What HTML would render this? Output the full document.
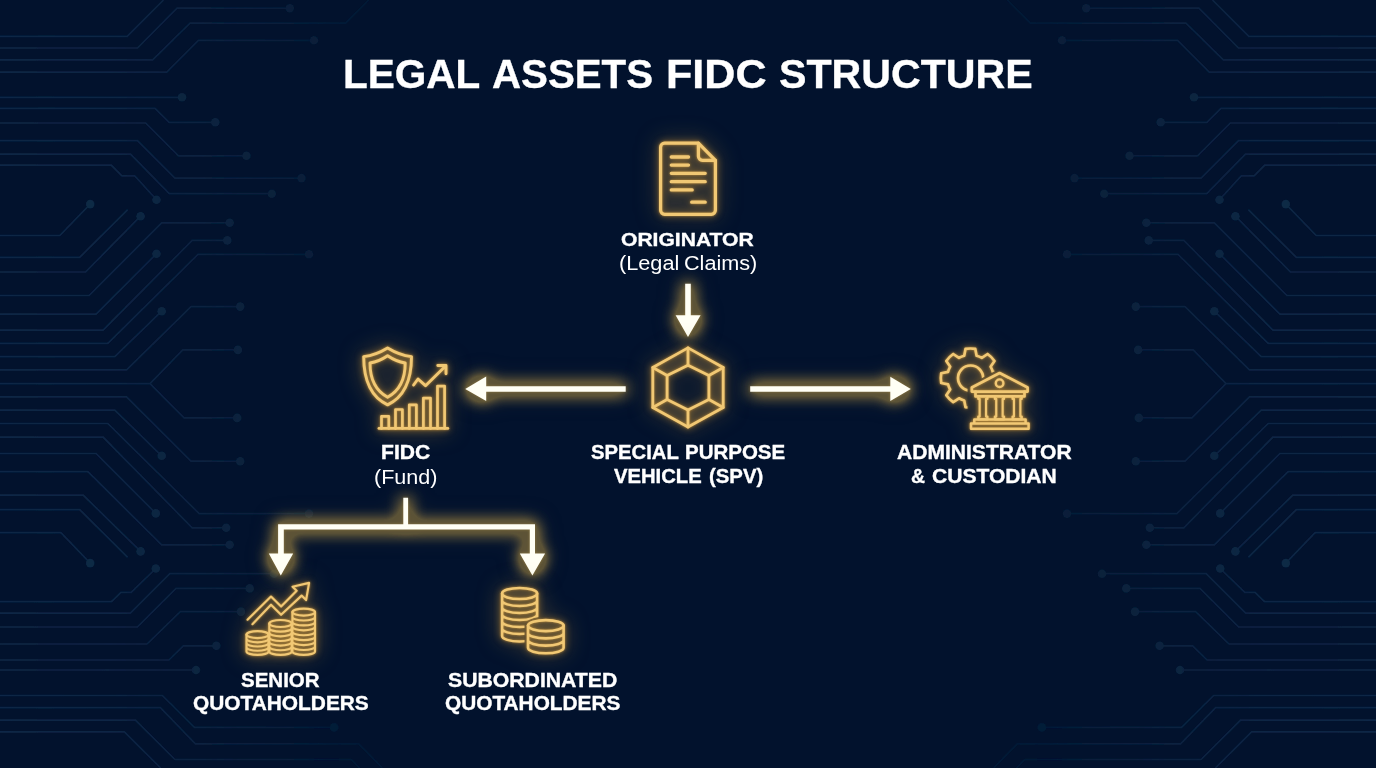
<!DOCTYPE html>
<html><head><meta charset="utf-8"><title>Legal Assets FIDC Structure</title>
<style>
html,body{margin:0;padding:0}
body{width:1376px;height:768px;overflow:hidden;background:#02122d;position:relative;font-family:"Liberation Sans",sans-serif;color:#fff}
svg{position:absolute;left:0;top:0}
.l{position:absolute;white-space:nowrap;font-weight:bold;line-height:1;transform-origin:0 50%;-webkit-text-stroke:0.35px #fff;color:#fff}
.l.r{font-weight:normal;-webkit-text-stroke:0}
.r{font-weight:normal}
</style></head><body>
<svg id="bg" width="1376" height="768" viewBox="0 0 1376 768">
<defs>
<linearGradient id="fadeG" gradientUnits="userSpaceOnUse" x1="0" y1="0" x2="360" y2="0"><stop offset="0" stop-color="#fff"/><stop offset="0.3" stop-color="#fff" stop-opacity="0.95"/><stop offset="1" stop-color="#fff" stop-opacity="0.4"/></linearGradient>
<mask id="fadeM" maskUnits="userSpaceOnUse" x="0" y="0" width="400" height="768"><rect x="0" y="0" width="400" height="768" fill="url(#fadeG)"/></mask>
<g id="circ" fill="none" stroke="#0c2646" stroke-width="1.7" mask="url(#fadeM)">
<path d="M0,36.3H127.2L163.5,0"/>
<path d="M0,48H137.5L177,8.2H289.8"/>
<path d="M0,59.8H152.7L190,23.1H345.6L368.7,0"/>
<path d="M0,72.2H166.8L198.5,40.3H314"/>
<path d="M0,97.3H182"/>
<path d="M0,108.3H155.1L169.1,122.3H215.3"/>
<path d="M0,123H145.7L178.5,155.8H246.5"/>
<path d="M0,140.6H137.5L175,178.1H301.5"/>
<path d="M0,154.2H130.5L169.3,193.6H271.8"/>
<path d="M0,165.2H111.3L121.9,175.9H134.8L156.5,199.8"/>
<path d="M0,235.5H59.8L90.2,204.1"/>
<path d="M0,257.3H79.7L127.7,209.7"/>
<path d="M0,272H85.5L140.6,216.2"/>
<path d="M0,295.5H89.1L161.7,222.8H229.7"/>
<path d="M0,314.2H96.1L156.5,253.7"/>
<path d="M0,330.2H103.1L192.2,240.4H227.3"/>
<path d="M0,343.4H107.8L198,254.4H309"/>
<path d="M0,356.7H114.8L161.7,311.2"/>
<path d="M0,369.8H126.6L191,306.6H240.2"/>
<path d="M0,383.7H150L182.8,349.9H237.9M150,383.7L184,417.9H237.2"/>
<path d="M0,396.8H126.6L191,461.2H240.2"/>
<path d="M0,410.1H114.8L161.7,455.8"/>
<path d="M0,423.5H107.8L199.2,513.6H309"/>
<path d="M0,437.1H103.1L192.2,527.8H226.2"/>
<path d="M0,453.5H96.1L155.8,513.4"/>
<path d="M0,471.7H87.9L161.7,544.8H229.7"/>
<path d="M0,495.2H83.2L140.6,551.4"/>
<path d="M0,509.7H79.7L127.7,557.3"/>
<path d="M0,532.7H60.9L90.2,563.1"/>
<path d="M0,601.7H111.5L121,592.3H131.2L155.8,568.5"/>
<path d="M0,613.2H130.3L169.8,573.7H274"/>
<path d="M0,627H137.3L176,588.4H249.7"/>
<path d="M0,644H147L180.4,611.6H241"/>
<path d="M0,660H169L183.3,645.8H216.4"/>
<path d="M0,670H196"/>
<path d="M0,695.5H162.4L194.4,727.4H334.2"/>
<path d="M0,707.7H160.4L195.4,743.8H358.8L382.4,768"/>
<path d="M0,720.1H135.4L175,759.5H351.2L359.7,768"/>
<path d="M0,731.9H124.4L160.7,768"/>
<g fill="#0e2a46" stroke="none">
<circle cx="289.8" cy="8.2" r="4.3"/><circle cx="314" cy="40.3" r="4.3"/><circle cx="182" cy="97.3" r="4.3"/>
<circle cx="215.3" cy="122.3" r="4.3"/><circle cx="246.5" cy="155.8" r="4.3"/><circle cx="301.5" cy="178.1" r="4.3"/>
<circle cx="271.8" cy="193.8" r="4.3"/><circle cx="156.5" cy="199.8" r="4.3"/><circle cx="90.2" cy="204.1" r="4.3"/>
<circle cx="140.6" cy="216.2" r="4.3"/><circle cx="229.7" cy="222.8" r="4.3"/><circle cx="156.5" cy="253.7" r="4.3"/>
<circle cx="227.3" cy="240.4" r="4.3"/><circle cx="309" cy="254.2" r="4.3"/><circle cx="161.7" cy="311.2" r="4.3"/>
<circle cx="240.2" cy="306.6" r="4.3"/><circle cx="237.9" cy="349.9" r="4.3"/><circle cx="237.2" cy="417.9" r="4.3"/>
<circle cx="240.2" cy="461.2" r="4.3"/><circle cx="161.7" cy="455.8" r="4.3"/><circle cx="309" cy="513.6" r="4.3"/>
<circle cx="226.2" cy="527.8" r="4.3"/><circle cx="155.8" cy="513.4" r="4.3"/><circle cx="229.7" cy="544.8" r="4.3"/>
<circle cx="140.6" cy="551.4" r="4.3"/><circle cx="90.2" cy="563.1" r="4.3"/><circle cx="155.8" cy="568.5" r="4.3"/>
<circle cx="274" cy="573.7" r="4.3"/><circle cx="249.7" cy="588.4" r="4.3"/><circle cx="241" cy="611.6" r="4.3"/>
<circle cx="216.4" cy="645.8" r="4.3"/><circle cx="196" cy="670" r="4.3"/><circle cx="334.2" cy="727.4" r="4.3"/>
</g>
</g>
</defs>
<filter id="soft" x="-5%" y="-5%" width="110%" height="110%"><feGaussianBlur stdDeviation="0.55"/></filter>
<g filter="url(#soft)"><use href="#circ"/>
<use href="#circ" transform="matrix(-1,0,0,1,1376,0)"/></g>
</svg>

<svg id="fg" width="1376" height="768" viewBox="0 0 1376 768">
<defs>
<filter id="gA" x="-50%" y="-50%" width="200%" height="200%" color-interpolation-filters="sRGB">
<feGaussianBlur in="SourceAlpha" stdDeviation="12" result="b0"/>
<feComponentTransfer in="b0" result="b0s"><feFuncA type="linear" slope="2"/></feComponentTransfer>
<feFlood flood-color="#8a7038" flood-opacity="0.28"/><feComposite in2="b0s" operator="in" result="g0"/>
<feGaussianBlur in="SourceAlpha" stdDeviation="8" result="b1"/>
<feComponentTransfer in="b1" result="b1s"><feFuncA type="linear" slope="5"/></feComponentTransfer>
<feFlood flood-color="#a88a40" flood-opacity="0.5"/><feComposite in2="b1s" operator="in" result="g1"/>
<feGaussianBlur in="SourceAlpha" stdDeviation="1.5" result="b2"/>
<feFlood flood-color="#e8bc58" flood-opacity="0.35"/><feComposite in2="b2" operator="in" result="g2"/>
<feMerge><feMergeNode in="g0"/><feMergeNode in="g1"/><feMergeNode in="g2"/><feMergeNode in="SourceGraphic"/></feMerge>
</filter>
<filter id="gI" x="-50%" y="-50%" width="200%" height="200%" color-interpolation-filters="sRGB">
<feGaussianBlur in="SourceAlpha" stdDeviation="11" result="b0"/>
<feComponentTransfer in="b0" result="b0s"><feFuncA type="linear" slope="2"/></feComponentTransfer>
<feFlood flood-color="#8a6c34" flood-opacity="0.5"/><feComposite in2="b0s" operator="in" result="g0"/>
<feGaussianBlur in="SourceAlpha" stdDeviation="3.5" result="b1"/>
<feComponentTransfer in="b1" result="b1s"><feFuncA type="linear" slope="1.8"/></feComponentTransfer>
<feFlood flood-color="#9a7430" flood-opacity="0.55"/><feComposite in2="b1s" operator="in" result="g1"/>
<feGaussianBlur in="SourceAlpha" stdDeviation="1.3" result="b2"/>
<feFlood flood-color="#e0a440" flood-opacity="0.7"/><feComposite in2="b2" operator="in" result="g2"/>
<feMerge><feMergeNode in="g0"/><feMergeNode in="g1"/><feMergeNode in="g2"/><feMergeNode in="SourceGraphic"/></feMerge>
</filter>
<mask id="mGear" maskUnits="userSpaceOnUse" x="900" y="330" width="160" height="120">
<rect x="900" y="330" width="160" height="120" fill="#fff"/>
<path d="M967.5,395 V386 L999.6,368.5 L1032,386 V433 H967.5 Z" fill="#000"/>
</mask>
<mask id="mBig" maskUnits="userSpaceOnUse" x="480" y="570" width="110" height="100">
<rect x="480" y="570" width="110" height="100" fill="#fff"/>
<path d="M524.5,625.6 A21.3,9 0 0 1 567.1,625.6 V649 A21.3,9 0 0 1 524.5,649 Z" fill="#000"/>
</mask>
</defs>

<!-- arrows -->
<g fill="#fffff5" filter="url(#gA)">
<path d="M685.2,283.7 H690.8 V315.2 H700.6 L688,337 L675.6,315.2 H685.2 Z"/>
<path d="M625.7,386.2 V391.8 H486.2 V401 L465.2,389 L486.2,376.6 V386.2 Z"/>
<path d="M750.2,386.2 V391.8 H890.3 V401 L910.8,389 L890.3,376.8 V386.2 Z"/>
<path d="M403.3,497.8 H408.1 V524.3 H535 V553.4 H545.1 L532.4,575.6 L519.8,553.4 H529.8 V529.5 H283.8 V553.6 H293.2 L280.8,575.4 L268.8,553.6 H278.1 V524.3 H403.3 Z"/>
</g>

<!-- icon interior tints -->
<g fill="#b48a44" stroke="none">
<path fill-opacity="0.13" d="M664.6,143.2 H698.4 L715.4,160.3 V210.3 A4,4 0 0 1 711.4,214.3 H664.6 A4,4 0 0 1 660.6,210.3 V147.2 A4,4 0 0 1 664.6,143.2 Z"/>
<path fill-opacity="0.2" fill-rule="evenodd" d="M688,347.9 L723.2,367.5 V407.5 L688,427 L652.8,407.5 V367.5 Z M688,365.2 L708.9,375.5 V399.5 L688,410 L667.1,399.5 V375.5 Z"/>
<path fill-opacity="0.2" fill-rule="evenodd" d="M387.6,347.9 Q376,355 363.7,356.6 C363.7,385 375,399 387.6,404.9 C400.2,399 411.5,385 411.5,356.6 Q399.2,355 387.6,347.9 Z M387.6,355.7 Q379,361.5 370,363 C370,381 377,391.5 387.6,397.2 C398.2,391.5 405.2,381 405.2,363 Q396.2,361.5 387.6,355.7 Z"/>
<path fill-opacity="0.14" d="M381.5,428.4 V416.3 H388.8 V428.4 Z M395.5,428.4 V409.5 H402.4 V428.4 Z M409.3,428.4 V404.8 H416.4 V428.4 Z M423.4,428.4 V398.1 H430.5 V428.4 Z M437.5,428.4 V386.1 H444.6 V428.4 Z"/>
<path fill-opacity="0.2" d="M246.50,634.6 A11,3.5 0 0 1 268.50,634.6 V651.4 A11,3.5 0 0 1 246.50,651.4 Z M269.30,623.5 A11.2,3.5 0 0 1 291.70,623.5 V651.4 A11.2,3.5 0 0 1 269.30,651.4 Z M292.40,612.1 A11.3,3.5 0 0 1 315.00,612.1 V651.4 A11.3,3.5 0 0 1 292.40,651.4 Z "/>
<path fill-opacity="0.2" d="M528.00,625.6 A17.8,5.5 0 0 1 563.60,625.6 V647.8 A17.8,5.5 0 0 1 528.00,647.8 Z "/>
<path fill-opacity="0.2" d="M502.10,593.5 A17.5,5.5 0 0 1 537.10,593.5 V636 A17.5,5.5 0 0 1 502.10,636 Z " mask="url(#mBig)"/>
<path fill-opacity="0.16" d="M971.8,391.6 V387.5 L999.6,373 L1027.6,387.5 V391.6 Z M975.5,391.6 H1024.5 V419.4 H975.5 Z M971,419.4 H1028.6 V428.8 H971 Z"/>
<path fill-opacity="0.13" d="M964.20,355.74L965.51,348.91A29.6,29.6 0 0 1 975.29,348.91L976.60,355.74A23.2,23.2 0 0 1 981.82,357.91L987.59,354.00A29.6,29.6 0 0 1 994.50,360.91L990.59,366.68A23.2,23.2 0 0 1 992.76,371.90L999.59,373.21A29.6,29.6 0 0 1 999.59,382.99L992.76,384.30A23.2,23.2 0 0 1 990.59,389.52L994.50,395.29A29.6,29.6 0 0 1 987.59,402.20L981.82,398.29A23.2,23.2 0 0 1 976.60,400.46L975.29,407.29A29.6,29.6 0 0 1 965.51,407.29L964.20,400.46A23.2,23.2 0 0 1 958.98,398.29L953.21,402.20A29.6,29.6 0 0 1 946.30,395.29L950.21,389.52A23.2,23.2 0 0 1 948.04,384.30L941.21,382.99A29.6,29.6 0 0 1 941.21,373.21L948.04,371.90A23.2,23.2 0 0 1 950.21,366.68L946.30,360.91A29.6,29.6 0 0 1 953.21,354.00L958.98,357.91A23.2,23.2 0 0 1 964.20,355.74Z" mask="url(#mGear)"/>
</g>
<!-- icons -->
<g fill="none" stroke="#f1c874" stroke-width="3" stroke-linecap="round" stroke-linejoin="round" filter="url(#gI)">
<!-- document -->
<g>
<path d="M664.6,143.2 H698.4 L715.4,160.3 V210.3 A4,4 0 0 1 711.4,214.3 H664.6 A4,4 0 0 1 660.6,210.3 V147.2 A4,4 0 0 1 664.6,143.2 Z" stroke-width="3.2"/>
<path d="M698.4,143.2 V156.3 A4,4 0 0 0 702.4,160.3 H715.4" stroke-width="3.2"/>
<path d="M671.3,157 H688.5 M671.3,165.1 H688.5 M671.3,173.3 H705.2 M671.3,181.7 H705.2 M671.3,189.9 H692.2 M691.7,202.2 H705.2" stroke-width="3.3"/>
</g>
<!-- hexagon -->
<g stroke-width="2.8">
<path d="M688,347.9 L723.2,367.5 V407.5 L688,427 L652.8,407.5 V367.5 Z"/>
<path d="M688,365.2 L708.9,375.5 V399.5 L688,410 L667.1,399.5 V375.5 Z"/>
<path d="M688,347.9 V365.2 M723.2,367.5 L708.9,375.5 M723.2,407.5 L708.9,399.5 M688,427 V410 M652.8,407.5 L667.1,399.5 M652.8,367.5 L667.1,375.5"/>
</g>
<!-- shield + chart -->
<g stroke-width="2.9">
<path d="M387.6,347.9 Q376,355 363.7,356.6 C363.7,385 375,399 387.6,404.9 C400.2,399 411.5,385 411.5,356.6 Q399.2,355 387.6,347.9 Z"/>
<path d="M387.6,355.7 Q379,361.5 370,363 C370,381 377,391.5 387.6,397.2 C398.2,391.5 405.2,381 405.2,363 Q396.2,361.5 387.6,355.7 Z"/>
<path d="M379,428.4 H447.8"/>
<path d="M381.5,428.4 V416.3 H388.8 V428.4 M395.5,428.4 V409.5 H402.4 V428.4 M409.3,428.4 V404.8 H416.4 V428.4 M423.4,428.4 V398.1 H430.5 V428.4 M437.5,428.4 V386.1 H444.6 V428.4" stroke-width="2.7"/>
<path d="M413.6,385 L418,379 L425.5,385.7 L445.6,366 M437.8,365.5 H446 V373.8"/>
</g>
<!-- gear + bank -->
<g stroke-width="2.7">
<g mask="url(#mGear)">
<path d="M964.20,355.74L965.51,348.91A29.6,29.6 0 0 1 975.29,348.91L976.60,355.74A23.2,23.2 0 0 1 981.82,357.91L987.59,354.00A29.6,29.6 0 0 1 994.50,360.91L990.59,366.68A23.2,23.2 0 0 1 992.76,371.90L999.59,373.21A29.6,29.6 0 0 1 999.59,382.99L992.76,384.30A23.2,23.2 0 0 1 990.59,389.52L994.50,395.29A29.6,29.6 0 0 1 987.59,402.20L981.82,398.29A23.2,23.2 0 0 1 976.60,400.46L975.29,407.29A29.6,29.6 0 0 1 965.51,407.29L964.20,400.46A23.2,23.2 0 0 1 958.98,398.29L953.21,402.20A29.6,29.6 0 0 1 946.30,395.29L950.21,389.52A23.2,23.2 0 0 1 948.04,384.30L941.21,382.99A29.6,29.6 0 0 1 941.21,373.21L948.04,371.90A23.2,23.2 0 0 1 950.21,366.68L946.30,360.91A29.6,29.6 0 0 1 953.21,354.00L958.98,357.91A23.2,23.2 0 0 1 964.20,355.74Z"/>
<circle cx="970.6" cy="378.1" r="12.6"/>
</g>
<path d="M971.8,391.6 V387.5 L999.6,373 L1027.6,387.5 V391.6 Z"/>
<circle cx="999.6" cy="383.2" r="3.8" stroke-width="2.4"/>
<path d="M975.5,391.6 V396.4 H1024.5 V391.6"/>
<path d="M978.25,396.4 V398.9 H979.65 V416.6 H978.25 V419.4 H987.45 V416.6 H986.05 V398.9 H987.45 V396.4 M994.85,396.4 V398.9 H996.25 V416.6 H994.85 V419.4 H1004.05 V416.6 H1002.65 V398.9 H1004.05 V396.4 M1012.55,396.4 V398.9 H1013.95 V416.6 H1012.55 V419.4 H1021.75 V416.6 H1020.35 V398.9 H1021.75 V396.4" stroke-width="2.2"/>
<path d="M974.3,419.4 H1025.6 V423.6 H974.3 Z M971,423.6 H1028.6 V428.8 H971 Z" stroke-width="2.5"/>
</g>
<!-- senior coins -->
<g stroke-width="2.15" id="senior"><ellipse cx="257.5" cy="634.6" rx="11" ry="3.5"/><path d="M246.50,634.6V651.4M268.50,634.6V651.4M246.50,638.80A11,3.5 0 0 0 268.50,638.80M246.50,643.00A11,3.5 0 0 0 268.50,643.00M246.50,647.20A11,3.5 0 0 0 268.50,647.20M246.50,651.40A11,3.5 0 0 0 268.50,651.40"/><ellipse cx="280.5" cy="623.5" rx="11.2" ry="3.5"/><path d="M269.30,623.5V651.4M291.70,623.5V651.4M269.30,628.15A11.2,3.5 0 0 0 291.70,628.15M269.30,632.80A11.2,3.5 0 0 0 291.70,632.80M269.30,637.45A11.2,3.5 0 0 0 291.70,637.45M269.30,642.10A11.2,3.5 0 0 0 291.70,642.10M269.30,646.75A11.2,3.5 0 0 0 291.70,646.75M269.30,651.40A11.2,3.5 0 0 0 291.70,651.40"/><ellipse cx="303.7" cy="612.1" rx="11.3" ry="3.5"/><path d="M292.40,612.1V651.4M315.00,612.1V651.4M292.40,617.01A11.3,3.5 0 0 0 315.00,617.01M292.40,621.93A11.3,3.5 0 0 0 315.00,621.93M292.40,626.84A11.3,3.5 0 0 0 315.00,626.84M292.40,631.75A11.3,3.5 0 0 0 315.00,631.75M292.40,636.66A11.3,3.5 0 0 0 315.00,636.66M292.40,641.58A11.3,3.5 0 0 0 315.00,641.58M292.40,646.49A11.3,3.5 0 0 0 315.00,646.49M292.40,651.40A11.3,3.5 0 0 0 315.00,651.40"/><path d="M247.5,619.7 L271,596.6 L281.1,606.6 L296.7,590.7 L292.5,586.8 L309.1,582.9 L306.1,600.1 L301.6,595.6 L281.1,614.8 L271,604.7 L252.4,624.2"/></g>
<!-- subordinated coins -->
<g stroke-width="2.6" id="subord"><g mask="url(#mBig)"><ellipse cx="519.6" cy="593.5" rx="17.5" ry="5.5"/><path d="M502.10,593.5V636M537.10,593.5V636M502.10,600.50A17.5,5.5 0 0 0 537.10,600.50M502.10,607.50A17.5,5.5 0 0 0 537.10,607.50M502.10,614.50A17.5,5.5 0 0 0 537.10,614.50M502.10,621.50A17.5,5.5 0 0 0 537.10,621.50M502.10,628.50A17.5,5.5 0 0 0 537.10,628.50M502.10,636.00A17.5,5.5 0 0 0 537.10,636.00"/></g><ellipse cx="545.8" cy="625.6" rx="17.8" ry="5.5"/><path d="M528.00,625.6V647.8M563.60,625.6V647.8M528.00,632.90A17.8,5.5 0 0 0 563.60,632.90M528.00,640.10A17.8,5.5 0 0 0 563.60,640.10M528.00,647.80A17.8,5.5 0 0 0 563.60,647.80"/></g>
</g>
</svg>
<div class="l" style="left:342.82px;top:53.89px;font-size:41px;transform:scaleX(0.9882)">LEGAL</div>
<div class="l" style="left:491.62px;top:53.89px;font-size:41px;transform:scaleX(0.9815)">ASSETS</div>
<div class="l" style="left:666.40px;top:53.89px;font-size:41px;transform:scaleX(1.0505)">FIDC</div>
<div class="l" style="left:779.10px;top:53.89px;font-size:41px;transform:scaleX(1.0036)">STRUCTURE</div>
<div class="l" style="left:621.39px;top:229.82px;font-size:19px;transform:scaleX(1.1085)">ORIGINATOR</div>
<div class="l r" style="left:618.52px;top:252.67px;font-size:20px;transform:scaleX(1.0849)">(Legal</div>
<div class="l r" style="left:683.82px;top:252.67px;font-size:20px;transform:scaleX(1.0818)">Claims)</div>
<div class="l" style="left:590.90px;top:443.29px;font-size:19.5px;transform:scaleX(1.0393)">SPECIAL</div>
<div class="l" style="left:684.95px;top:443.29px;font-size:19.5px;transform:scaleX(1.0500)">PURPOSE</div>
<div class="l" style="left:614.40px;top:467.09px;font-size:19.5px;transform:scaleX(1.0381)">VEHICLE</div>
<div class="l" style="left:709.06px;top:467.09px;font-size:19.5px;transform:scaleX(1.0440)">(SPV)</div>
<div class="l" style="left:381.22px;top:443.39px;font-size:19.5px;transform:scaleX(1.0818)">FIDC</div>
<div class="l r" style="left:373.72px;top:467.27px;font-size:20px;transform:scaleX(1.0772)">(Fund)</div>
<div class="l" style="left:896.90px;top:443.29px;font-size:19.5px;transform:scaleX(1.0796)">ADMINISTRATOR</div>
<div class="l" style="left:911.41px;top:466.89px;font-size:19.5px;transform:scaleX(0.9923)">&amp;</div>
<div class="l" style="left:931.62px;top:466.89px;font-size:19.5px;transform:scaleX(1.0798)">CUSTODIAN</div>
<div class="l" style="left:241.00px;top:670.89px;font-size:19.5px;transform:scaleX(1.0507)">SENIOR</div>
<div class="l" style="left:192.73px;top:694.39px;font-size:19.5px;transform:scaleX(1.0699)">QUOTAHOLDERS</div>
<div class="l" style="left:448.10px;top:670.89px;font-size:19.5px;transform:scaleX(1.0877)">SUBORDINATED</div>
<div class="l" style="left:445.23px;top:694.39px;font-size:19.5px;transform:scaleX(1.0675)">QUOTAHOLDERS</div>
</body></html>
